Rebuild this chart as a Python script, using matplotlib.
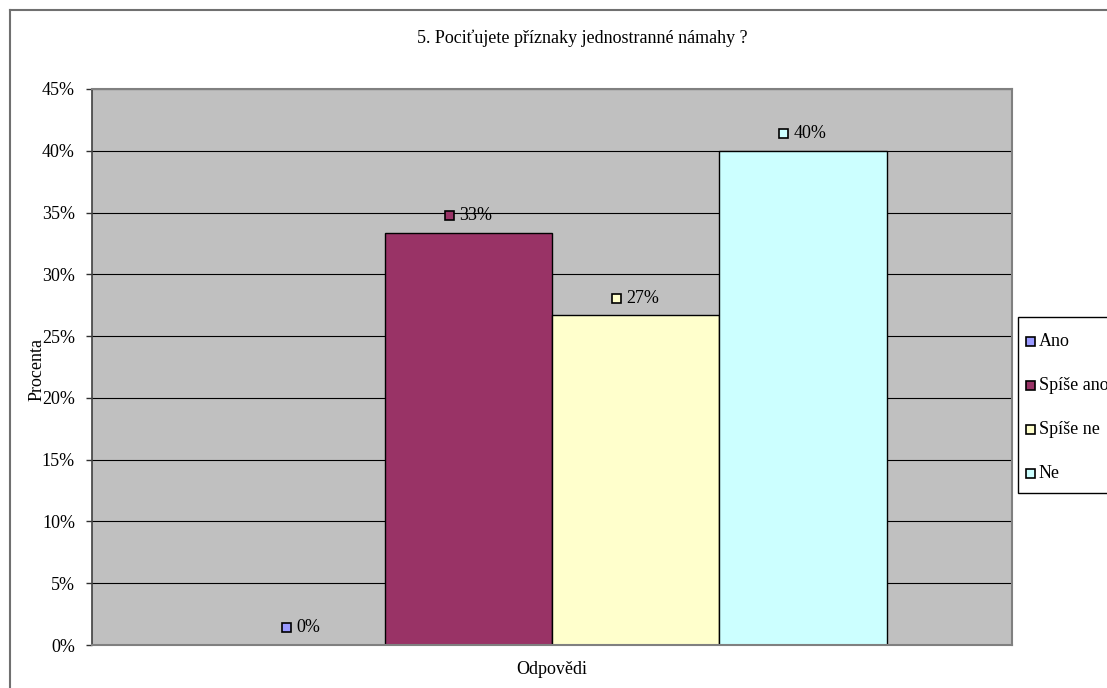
import matplotlib
matplotlib.use("Agg")
import matplotlib.pyplot as plt
from matplotlib.patches import Rectangle
from matplotlib.lines import Line2D
from matplotlib.offsetbox import DrawingArea, TextArea, HPacker, AnnotationBbox

# Survey answers and their shares
categories = ["Ano", "Spíše ano", "Spíše ne", "Ne"]
values = [0.0, 0.3333, 0.2667, 0.40]
labels = ["0%", "33%", "27%", "40%"]
colors = ["#9999FF", "#993366", "#FFFFCC", "#CCFFFF"]
y_ticks = [0.0, 0.05, 0.10, 0.15, 0.20, 0.25, 0.30, 0.35, 0.40, 0.45]
y_tick_labels = ["0%", "5%", "10%", "15%", "20%", "25%", "30%", "35%", "40%", "45%"]
title = "5. Pociťujete příznaky jednostranné námahy ?"
x_label = "Odpovědi"
y_label = "Procenta"

plt.rcParams["font.family"] = ["Liberation Serif", "DejaVu Serif"]
FS = 13

W, H = 1107, 688
fig = plt.figure(figsize=(W / 100, H / 100), dpi=100)


def fx(px):
    return px / W


def fy(py):
    return 1 - py / H


# chart area border (runs off the right and bottom edges)
fig.add_artist(Line2D([fx(9.5), 1.0], [fy(10), fy(10)], color="#707070", lw=1.5))
fig.add_artist(Line2D([fx(9.5), fx(9.5)], [fy(10), 0.0], color="#707070", lw=1.5))

left, right, top, bottom = 92, 1012, 89, 645
ax = fig.add_axes([fx(left), fy(bottom), (right - left) / W, (bottom - top) / H])
ax.set_facecolor("#C0C0C0")
ax.set_xlim(-0.5, 0.5)
ax.set_ylim(0, 0.45)
ax.set_axisbelow(True)
ax.yaxis.grid(True, color="black", lw=0.8)

n = len(values)
w = 1.0 / (n + 1.5)
for i, (cat, v, c) in enumerate(zip(categories, values, colors)):
    xc = (i - (n - 1) / 2) * w
    ax.bar(xc, v, width=w, color=c, edgecolor="black", lw=1.0, label=cat)

for i, (v, lab, c) in enumerate(zip(values, labels, colors)):
    xc = (i - (n - 1) / 2) * w
    da = DrawingArea(6.5, 6.5, 0, 0)
    da.add_artist(Rectangle((0, 0), 6.5, 6.5, facecolor=c, edgecolor="black", lw=1.2))
    ta = TextArea(lab, textprops=dict(fontsize=FS))
    pack = HPacker(children=[da, ta], align="center", pad=0, sep=4)
    ab = AnnotationBbox(pack, (xc, v), xybox=(0, 12.5), xycoords="data",
                        boxcoords="offset points", box_alignment=(0.5, 0.5),
                        frameon=False, pad=0)
    ax.add_artist(ab)

ax.set_xticks([])
ax.set_yticks(y_ticks)
ax.set_yticklabels(y_tick_labels, fontsize=FS)
ax.tick_params(axis="y", direction="out", length=4.3, width=1, color="#303030", pad=8)
for s in ["top", "right", "bottom"]:
    ax.spines[s].set_color("#808080")
    ax.spines[s].set_linewidth(1.5)
ax.spines["left"].set_color("#404040")
ax.spines["left"].set_linewidth(1.2)

fig.text(fx(582), fy(38), title, ha="center", va="center", fontsize=FS)
fig.text(fx(552), fy(670), x_label, ha="center", va="center", fontsize=FS)
fig.text(fx(37), fy(370), y_label, ha="center", va="center", rotation=90, fontsize=FS)

# legend box, clipped by the right edge of the figure
fig.add_artist(Rectangle((fx(1017.5), fy(493)), fx(120), (493 - 317) / H,
                         facecolor="white", edgecolor="black", lw=1.0,
                         transform=fig.transFigure))
entry_y = [342, 386, 429, 473]
for cat, c, ey in zip(categories, colors, entry_y):
    fig.add_artist(Rectangle((fx(1025.5), fy(ey + 4.5)), fx(9), 9 / H,
                             facecolor=c, edgecolor="black", lw=1.2,
                             transform=fig.transFigure))
    fig.text(fx(1039), fy(ey), cat, ha="left", va="center", fontsize=FS)

fig.savefig("out.png", dpi=100)
